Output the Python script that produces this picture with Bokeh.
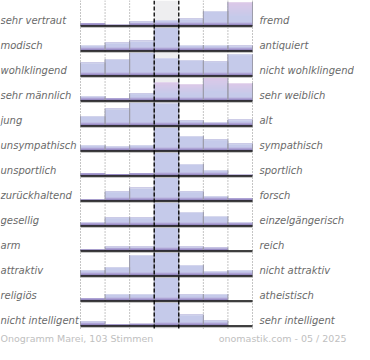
from bokeh.plotting import figure
from bokeh.models import Range1d
from bokeh.embed import file_html
from bokeh.resources import INLINE
from bokeh.core.properties import value

# ---------------- data ----------------
left_labels = ["sehr vertraut", "modisch", "wohlklingend", "sehr männlich", " jung",
               "unsympathisch", "unsportlich", "zurückhaltend", "gesellig", "arm",
               "attraktiv", "religiös", "nicht intelligent"]
right_labels = ["fremd", "antiquiert", "nicht wohlklingend", "sehr weiblich", "alt",
                "sympathisch", "sportlich", "forsch", "einzelgängerisch", "reich",
                "nicht attraktiv", "atheistisch", "sehr intelligent"]

# votes per scale step (7 steps, 103 votes each row)
v_vertraut = [4, 2, 7, 10, 12, 26, 42]
v_modisch = [9, 13, 16, 39, 9, 9, 8]
v_wohlklingend = [11, 14, 20, 15, 13, 12, 18]
v_maennlich = [5, 3, 8, 21, 19, 27, 20]
v_jung = [11, 20, 28, 27, 6, 4, 7]
v_sympathisch = [8, 6, 8, 34, 21, 16, 10]
v_sportlich = [5, 3, 5, 51, 25, 12, 2]
v_forsch = [2, 15, 21, 39, 15, 7, 4]
v_gesellig = [5, 12, 12, 35, 20, 14, 5]
v_reich = [3, 10, 10, 62, 10, 8, 0]
v_attraktiv = [7, 11, 27, 31, 14, 6, 7]
v_religioes = [5, 13, 13, 47, 12, 13, 0]
v_intelligent = [9, 3, 4, 52, 24, 11, 0]

rows = [v_vertraut, v_modisch, v_wohlklingend, v_maennlich, v_jung, v_sympathisch,
        v_sportlich, v_forsch, v_gesellig, v_reich, v_attraktiv, v_religioes, v_intelligent]

footer_left = "Onogramm Marei, 103 Stimmen"
footer_right = "onomastik.com - 05 / 2025"

# ---------------- layout / style ----------------
W_PX, H_PX = 354, 344
GX0 = 80.0          # left edge of grid
CW = 24.57          # column width
NCOL = 7
BASE0 = 25.0        # first baseline
PITCH = 25.0        # row pitch
BAR_H = 23.5        # max bar height
PINK = {(0, 6), (3, 3), (3, 4), (3, 5), (3, 6)}

BLUE = (197, 202, 234)
PINKC = (222, 200, 232)


def hexc(c):
    return "#%02x%02x%02x" % tuple(int(round(x)) for x in c)


def mix(a, b, t):
    return tuple(a[i] + (b[i] - a[i]) * t for i in range(3))


p = figure(width=W_PX, height=H_PX, output_backend="svg", toolbar_location=None,
           x_range=Range1d(0, W_PX), y_range=Range1d(H_PX, 0), min_border=0)
p.axis.visible = False
p.grid.visible = False
p.outline_line_color = None
p.background_fill_color = "white"
p.border_fill_color = "white"

n = len(rows)
last_base = BASE0 + (n - 1) * PITCH
grid_bottom = last_base + 3

# middle column background
p.quad(left=[GX0 + 3 * CW], right=[GX0 + 4 * CW], top=[0], bottom=[grid_bottom],
       fill_color="#eeeef0", line_color=None)

# dotted column lines
for k in [0, 1, 2, 5, 6, 7]:
    x = GX0 + k * CW
    p.segment(x0=[x], y0=[0], x1=[x], y1=[grid_bottom], line_color="#8a8a8a",
              line_width=1, line_dash="1 2")

# bars as layered gradient slices (each slice runs to the bar top, later ones paint over)
L, R, T, B, C = [], [], [], [], []
edge_x, edge_y0, edge_y1 = [], [], []
for r, vals in enumerate(rows):
    base = BASE0 + r * PITCH
    mx = max(vals)
    for c, v in enumerate(vals):
        h = v / mx * BAR_H
        if h <= 0:
            continue
        left = GX0 + c * CW
        right = left + CW
        top = base - h
        starts = [(0, (140, 127, 188)), (1, (164, 151, 204)), (2, (184, 178, 222)),
                  (3, BLUE)]
        if (r, c) in PINK and h > 3:
            nsl = 10
            for i in range(1, nsl):
                a = 3 + (h - 3) * i / nsl
                t = max(0.0, (a / h - 0.3) / 0.7)
                starts.append((a, mix(BLUE, PINKC, t)))
        for a, col in starts:
            if a >= h:
                break
            L.append(left); R.append(right)
            B.append(base - a); T.append(top); C.append(hexc(col))
        if h > 3:
            L.append(left); R.append(right)
            B.append(top + 0.8); T.append(top)
            C.append("#d8daee" if (r, c) not in PINK else "#e6d8ee")
        for ex in (left, right):
            edge_x.append(ex); edge_y0.append(base); edge_y1.append(top)

p.quad(left=L, right=R, top=T, bottom=B, fill_color=C, line_color=None)
p.segment(x0=edge_x, y0=edge_y0, x1=edge_x, y1=edge_y1, line_color="#9c9caa", line_width=1)

# baselines
xs0 = [GX0] * n
xs1 = [GX0 + NCOL * CW] * n
bases = [BASE0 + r * PITCH for r in range(n)]
p.segment(x0=xs0, y0=[b + 1.8 for b in bases], x1=xs1, y1=[b + 1.8 for b in bases],
          line_color="#b8b8b8", line_width=1)
p.segment(x0=xs0, y0=[b + 0.5 for b in bases], x1=xs1, y1=[b + 0.5 for b in bases],
          line_color="#000000", line_width=1.6)

# dashed middle lines
for k in [3, 4]:
    x = GX0 + k * CW
    p.segment(x0=[x], y0=[0], x1=[x], y1=[grid_bottom], line_color="#000000",
              line_width=1.3, line_dash="4 2")

# labels
p.text(x=[0] * n, y=[b - 4.8 for b in bases], text=left_labels,
       text_font=value("DejaVu Sans"), text_font_style="italic", text_font_size="10px",
       text_color="#6a6a6a", text_baseline="middle", text_align="left")
p.text(x=[GX0 + NCOL * CW + 7] * n, y=[b - 4.8 for b in bases], text=right_labels,
       text_font=value("DejaVu Sans"), text_font_style="italic", text_font_size="10px",
       text_color="#6a6a6a", text_baseline="middle", text_align="left")

# footer
p.text(x=[0], y=[338], text=[footer_left], text_font=value("DejaVu Sans"),
       text_font_size="9.5px", text_color="#c0c0c0", text_baseline="middle",
       text_align="left")
p.text(x=[346], y=[338], text=[footer_right], text_font=value("DejaVu Sans"),
       text_font_size="9.5px", text_color="#c0c0c0", text_baseline="middle",
       text_align="right")

open("out.html", "w").write(file_html(p, INLINE))
